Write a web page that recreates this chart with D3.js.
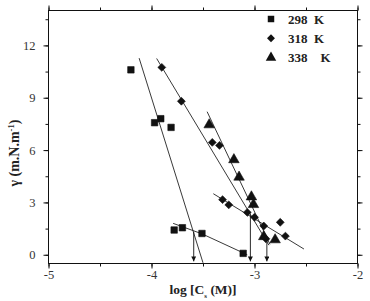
<!DOCTYPE html>
<html>
  <head>
    <meta charset="utf-8">
    <title>Surface tension vs log C</title>
    <script src="https://d3js.org/d3.v7.min.js"></script>
    <style>
      body { margin: 0; background: #fff; }
      text { font-family: "Liberation Serif", "Times New Roman", serif; }
    </style>
  </head>
  <body>
    <svg width="370" height="301"></svg>

    <script>
      // data
      const x298 = [-4.20, -3.97, -3.91, -3.81, -3.78, -3.70, -3.51, -3.11];
      const y298 = [10.60, 7.57, 7.80, 7.30, 1.42, 1.55, 1.22, 0.08];

      const x318 = [-3.90, -3.71, -3.41, -3.34, -3.31, -3.25, -3.07, -3.00, -2.91, -2.75, -2.89, -2.70];
      const y318 = [10.74, 8.80, 6.44, 6.27, 3.16, 2.86, 2.43, 2.15, 1.65, 1.86, 0.92, 1.07];

      const x338 = [-3.44, -3.20, -3.15, -3.03, -3.01, -2.91, -2.80];
      const y338 = [7.45, 5.45, 4.45, 3.32, 2.88, 1.04, 0.86];

      // fitted lines (end points)
      const fitX = [[-4.12, -3.50], [-3.79, -3.51, -3.07], [-3.95, -2.86], [-3.40, -2.52], [-3.46, -2.85]];
      const fitY = [[11.27, -0.46], [1.80, 1.20, 0.00], [11.25, 0.55], [3.50, 0.33], [8.20, 0.60]];

      // arrows down to the x axis
      const arrowX = [-3.59, -3.04, -2.88];
      const arrowTop = [1.32, 2.30, 0.85];
      const arrowEnd = -0.38;

      const xTicks = [-5, -4, -3, -2];
      const yTicks = [0, 3, 6, 9, 12];
      const legendLabels = ["298  K", "318  K", "338    K"];

      const svg = d3.select("svg");
      const mLeft = 48.5, mRight = 357.5, mTop = 10.5, mBottom = 263.5;

      const x = d3.scaleLinear().domain([-5, -2]).range([mLeft, mRight]);
      const y = d3.scaleLinear().domain([-0.5, 14]).range([mBottom, mTop]);

      // arrow head
      svg.append("defs").append("marker")
        .attr("id", "head")
        .attr("viewBox", "0 0 10 10")
        .attr("refX", 10).attr("refY", 5)
        .attr("markerWidth", 5).attr("markerHeight", 5)
        .attr("markerUnits", "userSpaceOnUse")
        .attr("orient", "auto")
        .append("path")
          .attr("d", "M0,0 L10,5 L0,10 Z")
          .attr("fill", "#111");

      // axes: ticks outward on all four sides
      const minorX = d3.range(-5, -1.99, 0.5);
      const minorY = d3.range(0, 13.6, 1.5);

      function styleAxis(g) {
        g.select(".domain").remove();
        g.selectAll("line").attr("stroke", "#111");
        g.selectAll("text")
          .attr("font-family", "Liberation Serif, serif")
          .attr("font-size", 12.5)
          .attr("fill", "#333");
      }

      svg.append("g").attr("transform", `translate(0,${mBottom})`)
        .call(d3.axisBottom(x).tickValues(minorX).tickSize(3).tickFormat(""))
        .call(styleAxis);
      svg.append("g").attr("transform", `translate(0,${mBottom})`)
        .call(d3.axisBottom(x).tickValues(xTicks).tickSize(5).tickPadding(2).tickFormat(d => String(d)))
        .call(styleAxis);

      svg.append("g").attr("transform", `translate(0,${mTop})`)
        .call(d3.axisTop(x).tickValues(minorX).tickSize(3).tickFormat(""))
        .call(styleAxis);
      svg.append("g").attr("transform", `translate(0,${mTop})`)
        .call(d3.axisTop(x).tickValues(xTicks).tickSize(5).tickFormat(""))
        .call(styleAxis);

      svg.append("g").attr("transform", `translate(${mLeft},0)`)
        .call(d3.axisLeft(y).tickValues(minorY).tickSize(3).tickFormat(""))
        .call(styleAxis);
      svg.append("g").attr("transform", `translate(${mLeft},0)`)
        .call(d3.axisLeft(y).tickValues(yTicks).tickSize(5).tickPadding(8).tickFormat(d => String(d)))
        .call(styleAxis);

      svg.append("g").attr("transform", `translate(${mRight},0)`)
        .call(d3.axisRight(y).tickValues(minorY).tickSize(3).tickFormat(""))
        .call(styleAxis);
      svg.append("g").attr("transform", `translate(${mRight},0)`)
        .call(d3.axisRight(y).tickValues(yTicks).tickSize(5).tickFormat(""))
        .call(styleAxis);

      // frame
      svg.append("rect")
        .attr("x", mLeft).attr("y", mTop)
        .attr("width", mRight - mLeft).attr("height", mBottom - mTop)
        .attr("fill", "none").attr("stroke", "#111").attr("stroke-width", 1);

      // fit lines
      const line = d3.line().x(d => x(d[0])).y(d => y(d[1]));
      fitX.forEach((xs, i) => {
        svg.append("path")
          .attr("d", line(xs.map((v, j) => [v, fitY[i][j]])))
          .attr("fill", "none")
          .attr("stroke", "#222")
          .attr("stroke-width", 0.9);
      });

      // arrows
      svg.selectAll(".arrow")
        .data(arrowX)
        .enter()
        .append("line")
          .attr("class", "arrow")
          .attr("x1", d => x(d)).attr("x2", d => x(d))
          .attr("y1", (d, i) => y(arrowTop[i]))
          .attr("y2", y(arrowEnd))
          .attr("stroke", "#111")
          .attr("stroke-width", 0.9)
          .attr("marker-end", "url(#head)");

      // markers
      const symSquare = d3.symbol().type(d3.symbolSquare).size(42);
      const symDiamond = d3.symbol().type(d3.symbolDiamond2).size(40);
      const symTriangle = d3.symbol().type(d3.symbolTriangle).size(48);

      function drawSeries(xs, ys, sym) {
        svg.append("g")
          .selectAll("path")
          .data(xs)
          .enter()
          .append("path")
            .attr("d", sym)
            .attr("transform", (d, i) => `translate(${x(d)},${y(ys[i])})`)
            .attr("fill", "#111")
            .attr("stroke", "#111")
            .attr("stroke-width", 0.6)
            .attr("stroke-linejoin", "round");
      }
      drawSeries(x298, y298, symSquare);
      drawSeries(x318, y318, symDiamond);
      drawSeries(x338, y338, symTriangle);

      // legend
      const legendSyms = [symSquare, symDiamond, symTriangle];
      legendLabels.forEach((lab, i) => {
        const ly = 19 + i * 19.3;
        svg.append("path")
          .attr("d", legendSyms[i])
          .attr("transform", `translate(271,${ly})`)
          .attr("fill", "#111");
        svg.append("text")
          .attr("x", 288).attr("y", ly + 4.5)
          .attr("font-size", 13)
          .attr("font-weight", "bold")
          .attr("fill", "#222")
          .style("white-space", "pre")
          .text(lab);
      });

      // axis titles
      const xt = svg.append("text")
        .attr("x", (mLeft + mRight) / 2).attr("y", 294)
        .attr("text-anchor", "middle")
        .attr("font-size", 13.5)
        .attr("font-weight", "bold")
        .attr("fill", "#222")
        .style("white-space", "pre");
      xt.append("tspan").text("log [C");
      xt.append("tspan").attr("font-size", 7).attr("dy", 4).text("s");
      xt.append("tspan").attr("dy", -4).text(" (M)]");

      const yt = svg.append("text")
        .attr("transform", `translate(19,${(y(0) + y(12)) / 2 + 3}) rotate(-90)`)
        .attr("text-anchor", "middle")
        .attr("font-size", 14)
        .attr("font-weight", "bold")
        .attr("fill", "#222");
      yt.append("tspan").text("γ (m.N.m");
      yt.append("tspan").attr("font-size", 8.5).attr("dy", -5).text("-1");
      yt.append("tspan").attr("dy", 5).text(")");
    </script>
  </body>
</html>
